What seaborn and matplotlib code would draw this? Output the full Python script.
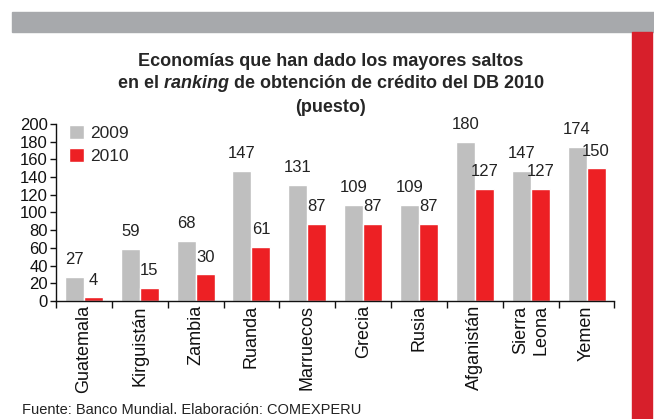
import numpy as np
import pandas as pd
import seaborn as sns
import matplotlib.pyplot as plt
from matplotlib.patches import Rectangle

paises = ["Guatemala", "Kirguistán", "Zambia", "Ruanda", "Marruecos",
          "Grecia", "Rusia", "Afganistán", "Sierra\nLeona", "Yemen"]
puesto_2009 = [27, 59, 68, 147, 131, 109, 109, 180, 147, 174]
puesto_2010 = [4, 15, 30, 61, 87, 87, 87, 127, 127, 150]

df = pd.DataFrame({
    "pais": paises * 2,
    "puesto": puesto_2009 + puesto_2010,
    "anio": ["2009"] * len(paises) + ["2010"] * len(paises),
})

sns.set_theme(style="white")
plt.rcParams["font.family"] = ["Liberation Sans", "DejaVu Sans"]
plt.rcParams["mathtext.fontset"] = "custom"
plt.rcParams["mathtext.bfit"] = "Liberation Sans:italic:bold"

fig = plt.figure(figsize=(6.54, 4.19), dpi=100)
ax = fig.add_axes([0.0856, 0.2816, 0.854, 0.4225])

# Franja gris superior y barra roja lateral
fig.patches.append(Rectangle((12 / 654, 1 - 32 / 419), 642 / 654, 20 / 419,
                             transform=fig.transFigure, color="#a7a9ac", zorder=0))
fig.patches.append(Rectangle((632 / 654, 0), 20 / 654, 1 - 32 / 419,
                             transform=fig.transFigure, color="#d71f2b", zorder=0))

sns.barplot(data=df, x="pais", y="puesto", hue="anio",
            palette=["#bfbfbf", "#ed2024"], width=0.68, ax=ax,
            saturation=1, legend=True)

for cont in ax.containers:
    ax.bar_label(cont, padding=7, fontsize=12, color="#222222")

ax.set_ylim(0, 200)
ax.set_xlim(-0.5, len(paises) - 0.5)
ax.set_yticks(np.arange(0, 201, 20))
ax.set_xlabel("")
ax.set_ylabel("")
ax.tick_params(axis="y", labelsize=12, length=4, width=1, left=True,
               pad=2, colors="#111111")
ax.tick_params(axis="x", which="major", length=0, labelsize=13,
               labelrotation=90, pad=3, colors="#111111")
ax.set_xticks(np.arange(-0.5, len(paises), 1), minor=True)
ax.tick_params(axis="x", which="minor", length=5, width=1,
               bottom=True, direction="out", color="#111111")
for lbl in ax.get_xticklabels():
    lbl.set_va("top")
    lbl.set_ha("center")
    lbl.set_multialignment("center")

sns.despine(ax=ax)
for s in ["left", "bottom"]:
    ax.spines[s].set_color("#111111")
    ax.spines[s].set_linewidth(1)

ax.legend(loc="upper left", bbox_to_anchor=(-0.005, 1.085), frameon=False,
          fontsize=12.5, handlelength=0.9, handleheight=0.9,
          handletextpad=0.3, labelspacing=0.4)

fig.text(0.505, 1 - 61 / 419,
         "Economías que han dado los mayores saltos",
         ha="center", va="center", fontsize=13, fontweight="bold")
fig.text(0.505, 1 - 84 / 419,
         "en el $\\mathbfit{ranking}$ de obtención de crédito del DB 2010",
         ha="center", va="center", fontsize=13, fontweight="bold")
fig.text(0.505, 1 - 107 / 419, "(puesto)",
         ha="center", va="center", fontsize=13, fontweight="bold")

fig.text(22 / 654, 1 - 417 / 419,
         "Fuente: Banco Mundial. Elaboración: COMEXPERU",
         ha="left", va="bottom", fontsize=10.5, color="#222222")

fig.savefig("out.png", dpi=100)
